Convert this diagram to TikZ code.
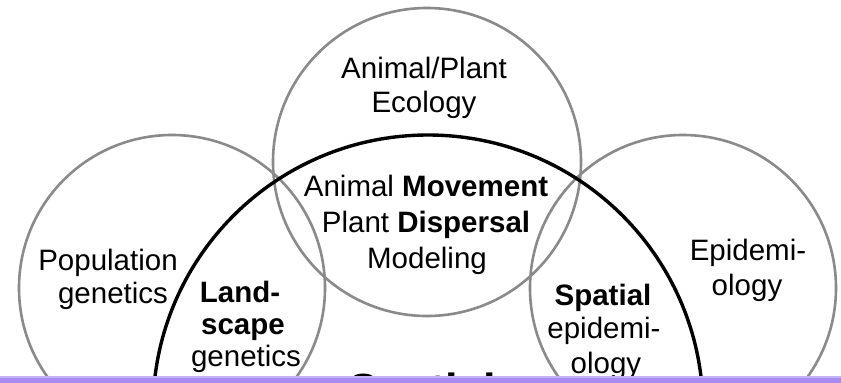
\documentclass[tikz,border=0pt]{standalone}
\usepackage{fontspec}
\setmainfont{Liberation Sans}
\definecolor{ringgray}{RGB}{138,138,138}
\definecolor{barviolet}{RGB}{168,140,242}
\definecolor{barlight}{RGB}{196,178,248}
\begin{document}
\begin{tikzpicture}[x=1pt,y=-1pt,
  ring/.style={draw=ringgray,line width=2.6pt},
  bigring/.style={draw=black,line width=3.4pt},
  lbl/.style={anchor=base,inner sep=0pt,font=\fontsize{29.5}{34}\selectfont},
  biglbl/.style={anchor=base,inner sep=0pt,font=\fontsize{45}{50}\selectfont\bfseries}]
\useasboundingbox (0,0) rectangle (841,383);
\fill[white] (0,0) rectangle (841,383);
\begin{scope}
\clip (0,0) rectangle (841,383);
\draw[ring] (172,288) circle[radius=153];
\draw[ring] (427,162) circle[radius=154];
\draw[ring] (683,288) circle[radius=153];
\draw[bigring] (428,410) circle[radius=275];
% texts
\node[lbl] (eco1) at (424,78) {Animal/Plant};
\node[lbl] (eco2) at (424,112) {Ecology};
\node[lbl] (mov1) at (426,196) {Animal \textbf{Movement}};
\node[lbl] (mov2) at (426,232) {Plant \textbf{Dispersal}};
\node[lbl] (mov3) at (427,268) {Modeling};
\node[lbl] (pop1) at (108,270) {Population};
\node[lbl] (pop2) at (113,303) {genetics};
\node[lbl] (land1) at (240,302) {\textbf{Land-}};
\node[lbl] (land2) at (243,334) {\textbf{scape}};
\node[lbl] (land3) at (246,366) {genetics};
\node[lbl] (epi1) at (748,260) {Epidemi-};
\node[lbl] (epi2) at (747,295) {ology};
\node[lbl] (sp1) at (603,305) {\textbf{Spatial}};
\node[lbl] (sp2) at (604,338) {epidemi-};
\node[lbl] (sp3) at (606,373) {ology};
\node[biglbl] (spbig) at (422,405) {Spatial};
\fill[barviolet] (0,377) rectangle (841,383);
\fill[barlight] (0,376) rectangle (841,377.5);
\end{scope}
\end{tikzpicture}
\end{document}
